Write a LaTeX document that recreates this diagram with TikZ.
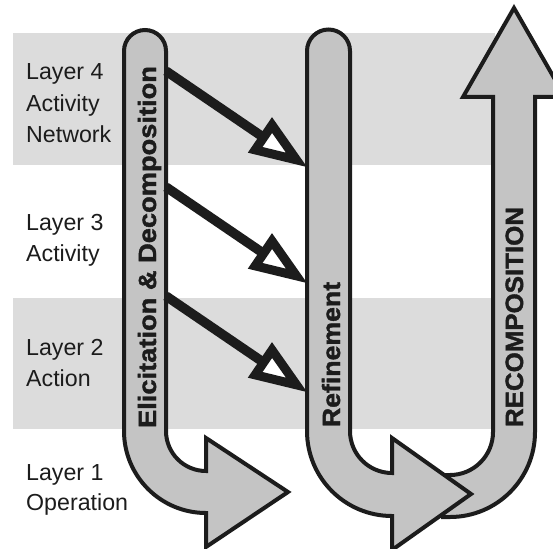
\documentclass[tikz,border=0pt]{standalone}
\usepackage{fontspec}
\usepackage{graphicx}
\setmainfont{Liberation Sans}
\newfontfamily\heavyfont{Liberation Sans}[BoldFeatures={FakeBold=1.5}]
\usetikzlibrary{calc}
\definecolor{bandgray}{HTML}{DCDCDC}
\definecolor{tubegray}{HTML}{C4C4C4}
\definecolor{ink}{HTML}{1C1C1C}
\begin{document}
\begin{tikzpicture}[x=1pt,y=-1pt,
  bandbox/.style={fill=bandgray, draw=none},
  tubeshape/.style={fill=tubegray, draw=ink, line width=4pt, line join=miter},
  layerlabel/.style={anchor=base west, inner sep=0pt, text=ink, font=\fontsize{23.2}{31.5}\selectfont},
  flowlabel/.style={anchor=base, inner sep=0pt, rotate=90, text=ink, font=\heavyfont\bfseries\fontsize{25}{30}\selectfont},
  linkshaft/.style={draw=ink, line width=9.5pt},
  linkhead/.style={draw=ink, fill=white, line width=9pt, line join=miter, miter limit=10}
]
\useasboundingbox (0,0) rectangle (553,548);
\clip (0,0) rectangle (553,548);
% layer bands
\fill[bandbox] (13,33) rectangle (495,165);
\fill[bandbox] (13,298) rectangle (495,429);
% layer labels
\node[layerlabel] (l4) at (26,80) {\vtop{\baselineskip=31.5pt\hbox{Layer 4}\hbox{Activity}\hbox{Network}}};
\node[layerlabel] (l3) at (26,230) {\vtop{\baselineskip=31.5pt\hbox{Layer 3}\hbox{Activity}}};
\node[layerlabel] (l2) at (26,355) {\vtop{\baselineskip=31.5pt\hbox{Layer 2}\hbox{Action}}};
\node[layerlabel] (l1) at (26,480) {\vtop{\baselineskip=30pt\hbox{Layer 1}\hbox{Operation}}};
% recomposition U-arrow
\draw[tubeshape] (443,517) -- (450,517) arc[start angle=90,end angle=0,radius=85]
  -- (535,97) -- (565,97) -- (514,8) -- (463,97) -- (493,97) -- (493,432)
  arc[start angle=0,end angle=90,radius=43] -- (443,475) -- cycle;
% elicitation tube
\draw[tubeshape] (124,51) arc[start angle=180,end angle=360,radius=21]
  -- (166,431) arc[start angle=180,end angle=90,radius=40]
  -- (206,438) -- (288,492) -- (206,547) -- (206,513)
  arc[start angle=90,end angle=180,radius=82] -- cycle;
% refinement tube
\draw[tubeshape] (307,51) arc[start angle=180,end angle=360,radius=21.5]
  -- (350,431) arc[start angle=180,end angle=90,radius=42]
  -- (392,438) -- (471,494) -- (392,550) -- (392,516)
  arc[start angle=90,end angle=180,radius=85] -- cycle;
% link arrows
\coordinate (s4) at (166,71);  \coordinate (e4) at (307,167);
\coordinate (s3) at (166,187); \coordinate (e3) at (307,283);
\coordinate (s2) at (166,296); \coordinate (e2) at (307,392);
\foreach \k in {4,3,2}{
  \coordinate (g\k) at ($(e\k)!12.7pt!(s\k)$);
  \coordinate (b\k) at ($(e\k)!52.5pt!(s\k)$);
  \draw[linkshaft] (s\k) -- (b\k);
  \draw[linkhead] (g\k) -- ($(b\k)!15pt!90:(g\k)$) -- ($(b\k)!15pt!-90:(g\k)$) -- cycle;
}
% flow labels
\node[flowlabel] (elic) at (156,247) {\scalebox{1.09}[1]{Elicitation \& Decomposition}};
\node[flowlabel] (refi) at (340,354.5) {\scalebox{1.066}[1]{Refinement}};
\node[flowlabel] (reco) at (523,317) {\scalebox{1.035}[1]{RECOMPOSITION}};
\end{tikzpicture}
\end{document}
